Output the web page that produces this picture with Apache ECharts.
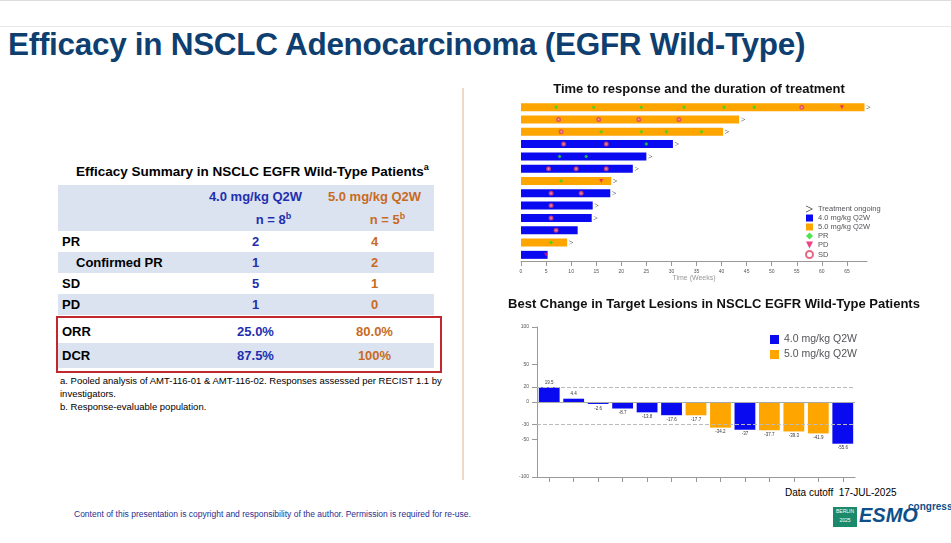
<!DOCTYPE html><html><head><meta charset="utf-8">
<script src="https://cdn.jsdelivr.net/npm/echarts@6/dist/echarts.min.js"></script>
<style>
body{margin:0;width:951px;height:543px;background:#fff;font-family:Arial,"Liberation Sans",sans-serif;position:relative;overflow:hidden}
.abs{position:absolute}
#title{left:8px;top:26px;font-size:31.5px;font-weight:bold;color:#0e3f70;letter-spacing:-0.3px}
table{border-collapse:collapse;font-size:13px;font-weight:bold}
td{padding:0 4px}
.b{color:#1f2fb0}.o{color:#c86b1f}
.bg td{background:#dbe3f1}
</style></head><body>
<div class="abs" style="left:0;top:0;width:951px;height:1px;background:#ddd"></div>
<div class="abs" style="left:0;top:26px;width:951px;height:1px;background:#e8e8e8"></div>
<div id="title" class="abs">Efficacy in NSCLC Adenocarcinoma (EGFR Wild-Type)</div>
<div class="abs" style="left:462px;top:88px;width:2px;height:392px;background:#f0d8c8"></div>
<div class="abs" style="left:76px;top:162px;font-size:13.5px;font-weight:bold">Efficacy Summary in NSCLC EGFR Wild-Type Patients<sup style="font-size:9px">a</sup></div>
<table class="abs" style="left:58px;top:185px;width:376px">
<tr class="bg"><td style="height:22px;width:130px"></td><td class="b" style="text-align:center">4.0 mg/kg Q2W</td><td class="o" style="text-align:center">5.0 mg/kg Q2W</td></tr>
<tr class="bg"><td style="height:24px"></td><td class="b" style="text-align:center;padding-left:40px">n = 8<sup style="font-size:9px">b</sup></td><td class="o" style="text-align:center;padding-left:30px">n = 5<sup style="font-size:9px">b</sup></td></tr>
<tr><td style="height:21px">PR</td><td class="b" style="text-align:center">2</td><td class="o" style="text-align:center">4</td></tr>
<tr class="bg"><td style="height:21px;padding-left:18px">Confirmed PR</td><td class="b" style="text-align:center">1</td><td class="o" style="text-align:center">2</td></tr>
<tr><td style="height:21px">SD</td><td class="b" style="text-align:center">5</td><td class="o" style="text-align:center">1</td></tr>
<tr class="bg"><td style="height:21px">PD</td><td class="b" style="text-align:center">1</td><td class="o" style="text-align:center">0</td></tr>
<tr><td style="height:4px;padding:0"></td><td style="padding:0"></td><td style="padding:0"></td></tr>
<tr><td style="height:24px">ORR</td><td class="b" style="text-align:center">25.0%</td><td class="o" style="text-align:center">80.0%</td></tr>
<tr class="bg"><td style="height:25px">DCR</td><td class="b" style="text-align:center">87.5%</td><td class="o" style="text-align:center">100%</td></tr>
</table>
<div class="abs" style="left:56px;top:316px;width:382px;height:53px;border:2px solid #c0282e"></div>
<div class="abs" style="left:60px;top:374px;width:400px;font-size:9.5px;line-height:13px">a. Pooled analysis of AMT-116-01 &amp; AMT-116-02. Responses assessed per RECIST 1.1 by investigators.<br>b. Response-evaluable population.</div>
<div class="abs" style="left:74px;top:509px;font-size:8.5px;color:#1f2f8f">Content of this presentation is copyright and responsibility of the author. Permission is required for re-use.</div>
<div class="abs" style="left:785px;top:487px;font-size:10px">Data cutoff&nbsp; 17-JUL-2025</div>
<div class="abs" style="left:833px;top:507px;width:24px;height:20px;background:#1a8a6a;color:#fff;font-size:5px;text-align:center;line-height:9px">BERLIN<br>2025</div>
<div class="abs" style="left:859px;top:504px;font-size:20px;font-weight:bold;color:#0e4f8a;font-style:italic">ESMO</div>
<div class="abs" style="left:908px;top:501px;font-size:10px;color:#0e4f8a;font-weight:bold">congress</div>
<div id="c" class="abs" style="left:0;top:0;width:951px;height:543px"></div>
<script>
const BLUE='#0a0af0',ORANGE='#ffa500';
// swimmer (top to bottom)
const swimDur=[68.5,43.5,40.3,30.3,25,22.3,18,17.8,14.3,14.1,11.3,9.2,5.3];
const swimDose=['5','5','5','4','4','4','5','4','4','4','4','5','4'];
const swimOngoing=[1,1,1,1,1,1,1,1,1,1,0,1,0];
const prPts=[[7,0],[14.5,0],[24,0],[32.5,0],[40.5,0],[46.5,0],[16,2],[24,2],[29,2],[36,2],[25,3],[7.7,4],[13,4],[8,6],[6,11]];
const sdPts=[[56,0],[7.5,1],[15.5,1],[23.5,1],[31.5,1],[8,2],[8.5,3],[17,3],[5.5,5],[11,5],[17,5],[6,7],[12,7],[6,8],[6,9],[7,10]];
const pdPts=[[64,0],[16,6],[5,12]];
// waterfall
const wfVal=[19.5,4.4,-2.6,-8.7,-13.8,-17.6,-17.7,-34.2,-37,-37.7,-39.3,-41.9,-55.6];
const wfDose=['4','4','4','4','4','4','5','5','4','5','5','5','4'];
const wfTicks=[-100,-50,-30,0,20,50,100];
const rows=swimDur.map((_,i)=>'P'+(i+1));
const ch=echarts.init(document.getElementById('c'));
const lbl=v=>({show:true,position:v>=0?'top':'bottom',fontSize:4.5,color:'#333',distance:2,formatter:String(v)});
const wfData=d=>wfVal.map((v,i)=>wfDose[i]===d?{value:v,label:lbl(v)}:'-');
ch.setOption({animation:false,
title:[{text:'Time to response and the duration of treatment',left:694,textAlign:'center',top:78,textStyle:{fontSize:13,fontWeight:'bold',color:'#111'}},
{text:'Best Change in Target Lesions in NSCLC EGFR Wild-Type Patients',left:709,textAlign:'center',top:293,textStyle:{fontSize:13,fontWeight:'bold',color:'#111'}}],
legend:[{left:800,top:200,orient:'vertical',itemWidth:7,itemHeight:7,itemGap:1,textStyle:{fontSize:7.5},
 data:[{name:'Treatment ongoing',icon:'path://M0,0L10,5L0,10L0,9L8,5L0,1Z',itemStyle:{color:'#000'}},{name:'4.0 mg/kg Q2W',icon:'rect'},{name:'5.0 mg/kg Q2W',icon:'rect'},{name:'PR',icon:'diamond'},{name:'PD',icon:'path://M0,0L10,0L5,10Z'},{name:'SD',icon:'emptyCircle'}]},
 {left:765,top:329,orient:'vertical',itemWidth:9,itemHeight:9,itemGap:4,textStyle:{fontSize:10.5},data:[{name:'4.0 mg/kg Q2W ',icon:'rect'},{name:'5.0 mg/kg Q2W ',icon:'rect'}]}],
grid:[{left:521,top:101,width:346,height:160},{left:537,top:327,width:318,height:150}],
xAxis:[{gridIndex:0,type:'value',min:0,max:69,interval:5,axisLine:{show:true,lineStyle:{color:'#999'}},axisTick:{show:true,customValues:[0,5,10,15,20,25,30,35,40,45,50,55,60,65]},splitLine:{show:false},axisLabel:{fontSize:5,color:'#555',customValues:[0,5,10,15,20,25,30,35,40,45,50,55,60,65]},name:'Time (Weeks)',nameLocation:'middle',nameGap:11,nameTextStyle:{fontSize:7}},
{gridIndex:1,type:'category',data:wfVal.map((_,i)=>i),axisLine:{show:true,onZero:false,lineStyle:{color:'#999'}},axisTick:{show:true,alignWithLabel:true},axisLabel:{show:false}}],
yAxis:[{gridIndex:0,type:'category',data:rows,inverse:true,axisLine:{show:false},axisTick:{show:false},axisLabel:{show:false}},
{gridIndex:1,type:'value',min:-100,max:100,axisLine:{show:true,lineStyle:{color:'#999'}},axisTick:{show:true,customValues:wfTicks},axisLabel:{fontSize:5,color:'#555',customValues:wfTicks},splitLine:{show:false}}],
series:[
{name:'4.0 mg/kg Q2W',type:'bar',xAxisIndex:0,yAxisIndex:0,barWidth:8,itemStyle:{color:BLUE},data:swimDur.map((v,i)=>swimDose[i]==='4'?v:'-')},
{name:'5.0 mg/kg Q2W',type:'bar',xAxisIndex:0,yAxisIndex:0,barWidth:8,barGap:'-100%',itemStyle:{color:ORANGE},data:swimDur.map((v,i)=>swimDose[i]==='5'?v:'-')},
{name:'Treatment ongoing',type:'scatter',xAxisIndex:0,yAxisIndex:0,symbol:'path://M0,0L10,5L0,10L0,9L8,5L0,1Z',symbolSize:[4,4],symbolOffset:[4,0],itemStyle:{color:'#000'},data:swimDur.map((v,i)=>swimOngoing[i]?[v,i]:null).filter(x=>x)},
{name:'PR',type:'scatter',xAxisIndex:0,yAxisIndex:0,symbol:'diamond',symbolSize:4,itemStyle:{color:'#22dd22'},data:prPts},
{name:'SD',type:'scatter',xAxisIndex:0,yAxisIndex:0,symbol:'emptyCircle',symbolSize:3,itemStyle:{color:'#dd4466'},data:sdPts},
{name:'PD',type:'scatter',xAxisIndex:0,yAxisIndex:0,symbol:'path://M0,0L10,0L5,10Z',symbolSize:4,itemStyle:{color:'#ee1166'},data:pdPts},
{name:'4.0 mg/kg Q2W ',type:'bar',xAxisIndex:1,yAxisIndex:1,barWidth:'85%',itemStyle:{color:BLUE},data:wfData('4'),
 markLine:{silent:true,symbol:'none',label:{show:false},lineStyle:{type:'dashed',color:'#bbb',width:1},data:[{yAxis:20},{yAxis:-30}]}},
{name:'5.0 mg/kg Q2W ',type:'bar',xAxisIndex:1,yAxisIndex:1,barWidth:'85%',barGap:'-100%',itemStyle:{color:ORANGE},data:wfData('5'),
 markLine:{silent:true,symbol:'none',label:{show:false},lineStyle:{type:'solid',color:'#aaa',width:1},data:[{yAxis:0}]}}
]});
</script></body></html>
